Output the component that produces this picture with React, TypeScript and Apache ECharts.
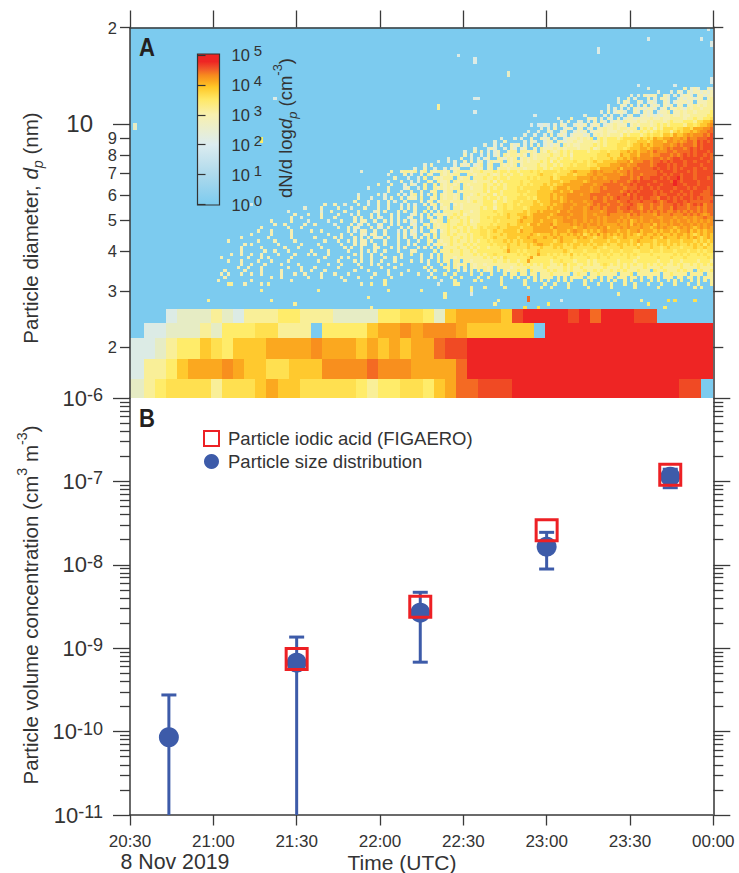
import React, { useEffect, useRef } from "react";
import * as echarts from "echarts";

const FONT = "Liberation Sans";
const INK = "#333333";
const BLUE = "#3D5BA9";
const RED = "#ED2024";
const SKY = "#7CCBEF";

const timeLabels = ["20:30", "21:00", "21:30", "22:00", "22:30", "23:00", "23:30", "00:00"];
const minorMultipliers = [2, 3, 4, 5, 6, 7, 8, 9];
const decadesB = [-11, -10, -9, -8, -7];
const diameterMinorTicks = [2, 3, 4, 5, 6, 7, 8, 9, 20];

// Panel B, minutes after 20:30
const psdTimes = [14, 60, 104.5, 150, 194.5];
const psdValues = [8.55e-11, 6.7e-10, 2.67e-9, 1.65e-8, 1.14e-7];
const psdUpper = [2.75e-10, 1.36e-9, 4.68e-9, 2.45e-8, 1.4e-7];
const psdLower = [1e-11, 1e-11, 6.8e-10, 8.9e-9, 8.4e-8];
const iodicTimes = [60, 104.5, 150, 194.5];
const iodicValues = [7.43e-10, 3.15e-9, 2.59e-8, 1.2e-7];

// level characters -> colours of the colour bar
const palette: Record<string, string> = {
  b: "#DCEBE5", c: "#E6ECC4",
  a: "#E6EDD2", "0": "#F5EFB4", "1": "#F9EF98", "2": "#FFEC6A", "3": "#FFE050", "4": "#FFC92E",
  "5": "#FBA81F", "6": "#F88F1E", "7": "#F46A23", "8": "#F04A24", "9": "#EE2524",
};
const colorStops = [
  [0, SKY], [0.2, "#ADD9EC"], [0.4, "#DCECF0"], [0.6, "#F8F0AE"], [0.7, "#FFE866"],
  [0.78, "#FFC828"], [0.82, "#FBA81F"], [0.86, "#F7891E"], [0.9, "#F15A29"], [0.95, "#EE2524"], [1, "#EE2524"],
];

// low-diameter channels, edges in nm, bottom to top; rows listed top to bottom
const channelEdges = [2.64, 2.385, 2.14, 1.84, 1.59, 1.39];
const channelRows = [
  "....bccc1cb11122111cccc22332c45555489999897999 88.....".replace(/ /g, ""),
  "..bbccc1c222 33111.2222 4556566654 44444.999999999999999".replace(/ /g, ""),
  "bbbc122432 4445555655 5454545578 89 999999999999999999999".replace(/ /g, ""),
  "bb11245556 5443344466 6676665555 79 999999999999999999999".replace(/ /g, ""),
  "cc12333313 3345443333 3212233245 77888 999999999999999 88.".replace(/ /g, ""),
];

// isolated bins: [column, row, level]
const specks: [number, number, string][] = [
  [173, 0, "b"], [155, 3, "b"], [171, 3, "b"], [174, 4, "b"], [174, 5, "b"], [140, 6, "b"], [140, 7, "b"],
  [98, 8, "b"], [103, 9, "b"], [103, 10, "b"], [113, 13, "c"], [113, 14, "c"], [174, 15, "b"], [174, 16, "b"],
  [152, 17, "b"], [163, 17, "b"], [43, 21, "b"], [103, 21, "b"], [104, 21, "b"], [92, 23, "1"], [92, 24, "1"],
  [103, 25, "b"], [121, 26, "b"], [120, 29, "b"], [122, 29, "b"], [123, 29, "b"], [125, 29, "b"], [1, 29, "c"], [1, 30, "c"],
  [39, 33, "2"], [39, 34, "2"], [36, 53, "b"],
  [102, 78, "1"], [106, 78, "1"], [112, 78, "1"], [119, 78, "1"], [123, 78, "1"], [126, 78, "1"], [131, 78, "1"],
  [137, 78, "1"], [144, 78, "1"], [151, 78, "1"], [158, 78, "1"], [169, 78, "1"], [171, 78, "1"],
  [39, 79, "1"], [56, 79, "1"], [77, 79, "1"], [87, 79, "1"], [102, 79, "1"], [146, 80, "1"], [94, 80, "1"], [102, 80, "b"],
  [71, 81, "1"], [94, 81, "1"], [23, 82, "1"], [42, 82, "1"], [110, 82, "1"], [119, 82, "7"], [119, 81, "7"], [129, 82, "b"],
  [153, 82, "1"], [161, 82, "3"], [163, 82, "3"], [169, 82, "3"], [49, 83, "1"], [109, 83, "1"], [125, 83, "2"], [155, 83, "2"],
  [72, 84, "1"], [118, 84, "3"], [122, 84, "3"], [160, 84, "2"],
];

// 1.2-minute bins, rows 18 to 77 from the top, right-aligned to the last column
const binnedRows = [
  "a......... .0.a0a..0a",
  "...a...a.0 a.0a00a0a0",
  "a.a.0 a00..0a.a. a00a.00a00",
  "a..0.a... 0.a.00a..a 0a00a00.01",
  ".a.0a..0a. a0a..0a.a0 00a0.00011",
  "a. ..0a.0.a.0 .a0a.0a0.0 0.00101011",
  "..a. a.a.a.0a0a 00a.a0.001 0a10110111",
  "..a.0. a00a..0a.0 a0.a001.00 1011011112",
  "a.....a.a ..a.a0..a0 a0a0a00100 1001111122",
  "a...0.. ..0a0.a.0a .0.a00a000 0100100111 1011211223",
  ".a.0..a a.a.0.0a.a 00a1000100 1011101211 1222133445",
  "a ..a.0a..a0 a0.a00.a00 1000.01011 1012121222 2133234456",
  "..a. a.0..a0a.0 0.a0.00100 1011011.12 1202133323 3443555667",
  ".a..a.. 0a..a0..a0 a0.a000100 0110101121 2123233134 3445456677",
  "...a..a..a .0.a0a.a00 0a0.010101 1102122212 3233244354 4565666768",
  "a... a.a..0..0a 0.a..a0001 0102.12122 2123333243 4354455655 6576677788",
  "a..0.. ...a.0a..a 00.00a0010 0111012122 2233233444 3455546656 5677687878",
  "a..a.a..0 a0.a.0.0.a 0a00.10100 1111212122 2333234454 5455566567 6777687888",
  "a. ..a0a..a.0 a.a0..0.10 0010101110 1112012222 2332344455 4566567677 7678787888",
  "a..0. 0.a.a0..01 1.11010.10 2101212122 2212223323 3344545455 6576667767 7778788878",
  "..0.a.. a.0.a0.101 1010.10111 1211212022 2222233343 3354455466 6566777676 7878788787",
  "a...0..a.a .a0..10a10 1.01010111 2112122122 2223233334 3445456566 6677676788 7888887887",
  "a.. a.a..0.0.0 0.a1001.10 1101011121 2021222232 2323433444 4555646667 7677878788 8788788878",
  "a.0.... ..a.0a0.a0 1.01..1010 1.01111211 2212122323 3323344445 5566566777 7678887878 8788887888",
  "a..0..a..a .a00...010 0.01.01101 1110111221 2122323333 3334435555 5646667677 7787887878 7888788788",
  "a..... ...0..0110 1.01.10110 1.01111011 2111212212 2122232323 3332333454 4445656555 6566767777 7778788878 8878788888",
  "..a....0.a ..0.10..10 1011..1101 1121012121 2212222343 3323334434 4455655666 6656767767 7778878788 7888788888",
  "....0...a. .a.1..0101 11.1011.11 1211212212 2222323233 3423444445 5556566566 6677767687 7888787889 7888788878",
  "... ..a...0..a .a..10.100 1.10111101 1112021222 2232233333 3444344555 5456666667 6777678788 8878888798 7888878888",
  "..0 ...0...a.0 a..1..1.10 1101.10111 1211212122 2232323334 3434455555 5666566777 7767787888 7888788898 8788878888",
  ".a... ..0....a0. .a.1..1010 1011.11011 1212122122 2323333344 4345554555 6665667677 7776777878 8787888878 8878788878",
  "..... .0...a..0 ..0..01..0 11.1011111 1202221222 2333233444 4455455466 6665667777 7767878788 8878788788 7887888778",
  "..a.....0 .a...0.a.0 1.0.0.1.10 1101.11012 1122021222 2232333444 4545556666 5667777767 7778687888 8878778887 8787887778",
  ". ...0...a.. .a.0..0.00 0.1..01.10 1101.10111 1212212122 2333232444 4545456666 6667677676 7877787878 8776887878 7887878777",
  "..... ..0...a..0 ..0.a..0.. ..0.01.011 1011110121 1222022122 3323334344 4555456566 6566777677 7677877787 7787678878 8787777778",
  "..0..0..a ...0..a..0 ..0...a.0. a..0.01.01 1.01011111 1222122322 3233334434 4545566656 6656767767 7767787667 7677677787 8767878677",
  "a.. ..0....0.. .a...0...0 ..0...0.0. 0...1.0.10 1.11011111 2122022322 3332344444 5455566566 6567667677 7677877657 7676677687 7767767677",
  "a....... ..a..0...0 ...0....a0 .0...0.0.. 0..1.0.0.1 1111211011 2222322333 3334344545 5554665666 6566665677 7667767767 6767676676 7676767677",
  "..0...0. ..0....0.. .a.0...0.0 ...0.0...a 0.0.1.0110 1121201111 2222232343 3444345555 5456666566 6566566676 6666576766 6657666766 6767676567",
  "...0..a... ..0...0... ..0.0..0.0 a..0.0..a0 ..0.10.01. 1212112111 2232333343 3345445555 4555565666 6566656566 6656566656 6665566656 6566566766",
  "..0.. ...0....a. ....a...0. ..0.00..0. .0.0.0.0.a 0.a..1011. 2111212011 2222323333 3454445545 5545566656 6565656566 6565645656 6566566565 6656565656",
  "...0. .0.....0.. 0.....a... .0.a0.0..a 0..0.0...0 a..10.1011 2112212112 2223233343 3444355455 5645555656 5656656555 5655646565 5646556566 5665656566",
  ".0..... ..0...0... .......0.. 0.0a...0.0 a.0...0.0. 0.0.1.1011 2121121212 3233343344 4434445555 5465555545 5655565645 5565655565 5456565545 6565456565",
  "..0...0.. ...0.....0 ..0....... 0.a.00..0. .0...a.0.0 a.0..10.01 2112121222 3323433444 4354445555 5545554565 5454545655 5455455645 5545455454 5564545455",
  ".0.....0.. ...0...... ....0...0. .0..0a.00. .0...0.0.a 0..01.1.11 2121112122 3323334344 4444454344 4545445454 5345464545 4545454345 4454544545 5454345454",
  "..0. ......0... ...0...... 0.....0.0. ..0.0.0.0a 0.0..0.0.. 0.0.1.1.11 1211212122 2323433344 4344544445 4454544445 4544344544 3445444454 4544354445 4454543454",
  ".0..... ...0....0. ....0..... ...0...0.. 0.0.00.0.. .0...0..0. .0..10.101 1212112121 2232333434 3434445444 4434544434 4443444434 4344434544 4434443444 3444343434",
  "....0 .0.......0 ......0... .0......0. ..0.00..0. .0...0..0. 0...1.0110 1211121212 2223233343 3433434554 4344434344 3434344343 3443434243 3434343434 3343434243",
  "..0. ....0..... .0...0.... ..0......0 .0..0...00 ...0.0.0.. .0.0.0.1.1 1112112121 2212223243 3333433343 3343433343 3333433233 3343333433 3433234333 2333433433",
  "..0. .....0..0. ..0......0 ....0..... 0...0.0.0. .0...0...0 0.....1.11 1211211212 2222222353 3232333433 3333343233 3233323332 3323332233 3233233323 3323323233",
  "...0..0. .0..0....0 ....0...0. 0...0..... ..0.0..0.. 0.....0..1 ..0..0.1.1 1111211121 2122322222 2323233533 2323232423 2322232323 2232323222 2322222232 3232232322",
  "..0....... 0...0.0... ...0...... ...0....0. 0...0..0.. .0..0.0... ..0..0.1.1 1101111111 1212121322 2222352222 2232222322 2232232232 2222322122 2223222322 2322222232",
  "....0...0. ...0...0.. ..0....... .0.....0.. ..0.0..0.. 0...0....0 ..0.0..1.1 1.11.11011 1111211212 2122522222 2122322212 2212122222 2122221222 2221222122 1222212221",
  "........0. .0...0.... 0....0.... ....0...0. ...0...0.0 ..0...0... ....0...1. 1.1011.101 1011111111 1212121212 2112131221 1212112321 2121212112 1212121121 2112121212",
  ".......0.. 0...0..... ..0...0... 0......0.. ....0..... 0...0..... ...1.0...1 1.10.1.101 1101.11110 1111211112 1111121211 2111111211 1121211112 1111211111 2111121111",
  "...0.....0 ....0..... 0.....0..0 ...0...... ..0...0... ..0.....0. ....0.1... 1..1.0.1.1 .101.1.101 1211.21111 2121121211 1211212112 1212111211 1.21121112 1211.12112",
  "..0.0...0. .0..0..... 0...0..0.. ..0...0... 0.......0. ..0...0... .0...0...1 ..1....1.. 1..1...1.1 1.11.11.11 1211111.12 11.1121111 1.1112.111 1111.11211 11.1111.11",
  "...0...... .......0.. 0.......0. ..0.....0. ...0...0.. ...0...... ....0.1... .1..1....1 ..1...1..1 .1..1.1.11 11.1.1.111 1.111.1.11 .111.11.1. 11.1.111.1 1.11.1.111",
  ".0........ .0........ ...0...... .........0 .......... .1........ ........a. ..1.....1. 1.....1... ...1..1.1. 1..1.1.1.. .1.1..1.1. 1..1.1..1. .1.1..1.1. 1..1.1.1.1",
  "....11...0 ....0.1... .......... .......... ....0..1.. .1........ .......a.. ..11...... ......1... ...1.....1 ..1...1... .1...1...1 ...1..1... 1...1...1. ..1..1...1",
];

const COLS = 175;
const ROWS = 85;
const FIRST_ROW = 18;
const MIN_PER_COL = 210 / COLS;
const TOP_D = 20;
const BOTTOM_D = 2.64;
const rowEdge = (r: number) => TOP_D * Math.pow(BOTTOM_D / TOP_D, r / ROWS);

type Cell = [number, number, number, number, string];

function buildCells(): Cell[] {
  const cells: Cell[] = [];
  binnedRows.forEach((raw, i) => {
    const s = raw.replace(/ /g, "").padStart(COLS, ".");
    const r = FIRST_ROW + i;
    let c = 0;
    while (c < COLS) {
      const ch = s[c];
      let e = c + 1;
      while (e < COLS && s[e] === ch) e++;
      if (ch !== ".") cells.push([c * MIN_PER_COL, e * MIN_PER_COL, rowEdge(r + 1), rowEdge(r), ch]);
      c = e;
    }
  });
  specks.forEach(([c, r, ch]) => {
    cells.push([c * MIN_PER_COL, (c + 1) * MIN_PER_COL, rowEdge(r + 1), rowEdge(r), ch]);
  });
  channelRows.forEach((s, r) => {
    for (let p = 0; p < s.length; p++) {
      if (s[p] === ".") continue;
      const t0 = Math.max(0, 0.97 + 4.014 * (p - 1));
      const t1 = p === s.length - 1 ? 210 : 0.97 + 4.014 * p;
      cells.push([t0, t1, channelEdges[r + 1], channelEdges[r], s[p]]);
    }
  });
  return cells;
}

const decadeLabel = (v: number) => `{b|10}{s|${Math.round(Math.log10(v))}}`;

export default function App() {
  const ref = useRef<HTMLDivElement>(null);
  useEffect(() => {
    if (!ref.current) return;
    const chart = echarts.init(ref.current, undefined, { renderer: "svg" });
    const line = { color: "#3a3a3a", width: 1.5 };
    const hiddenX = { show: false };
    const minorB = decadesB.flatMap((d) => minorMultipliers.map((m) => d + Math.log10(m)));
    const minorA = diameterMinorTicks.map((m) => Math.log10(m));
    const logMinA = Math.log10(1.39);
    const logMaxA = Math.log10(20);
    const overlay = (gridIndex: number, min: number, max: number, position: string, values: number[], length: number, extra: any = {}) => ({
      type: "value", gridIndex, min, max, position, splitLine: { show: false }, z: 8,
      axisLine: { show: false },
      axisTick: { show: true, inside: false, length, customValues: values, lineStyle: { color: "#3a3a3a", width: 1.3 } },
      axisLabel: { show: false },
      ...extra,
    });
    const bigRich = {
      b: { fontSize: 22, fontFamily: FONT, color: INK },
      s: { fontSize: 18, fontFamily: FONT, color: INK, verticalAlign: "top", lineHeight: 24 },
    };
    const smallRich = {
      b: { fontSize: 16.5, fontFamily: FONT, color: INK },
      s: { fontSize: 15, fontFamily: FONT, color: INK, verticalAlign: "top", lineHeight: 24, padding: [0, 0, 0, 4] },
    };
    const titleRich = (size: number) => ({
      i: { fontSize: size, fontFamily: FONT, fontStyle: "italic", fill: INK },
      sub: { fontSize: size * 0.7, fontFamily: FONT, fontStyle: "italic", fill: INK, verticalAlign: "bottom", lineHeight: size * 1.5 },
      sup: { fontSize: size * 0.7, fontFamily: FONT, fill: INK, verticalAlign: "top", lineHeight: size * 1.5 },
    });
    const texts = (x: number, y: number, text: string, size: number, extra: any = {}, rotation = 0, node: any = {}) => ({
      type: "text", x, y, rotation, z: 50, ...node,
      style: {
        text, fontSize: size, fontFamily: FONT, fill: INK, textAlign: "center", textVerticalAlign: "middle",
        ...extra,
      },
    });

    chart.setOption({
      animation: false,
      backgroundColor: "#ffffff",
      grid: [
        { left: 130, top: 27.5, width: 583.3, height: 370.5, show: true, backgroundColor: SKY, borderWidth: 0 },
        { left: 130, top: 398, width: 583.3, height: 417, borderWidth: 0 },
        { left: 197.5, top: 55, width: 22, height: 149.5, borderWidth: 0 },
      ],
      xAxis: [
        {
          type: "value", gridIndex: 0, min: 0, max: 210, interval: 30, position: "top", splitLine: { show: false }, z: 8,
          axisLine: { show: true, onZero: false, lineStyle: line },
          axisTick: { show: true, length: 17, lineStyle: { color: "#3a3a3a", width: 1.3 } }, axisLabel: { show: false },
        },
        {
          type: "value", gridIndex: 1, min: 0, max: 210, interval: 30, position: "bottom", splitLine: { show: false },
          axisLine: { show: true, onZero: false, lineStyle: line },
          axisTick: { show: true, length: 10.5, lineStyle: { color: "#3a3a3a", width: 1.3 } },
          axisLabel: {
            show: true, fontSize: 17, fontFamily: FONT, color: INK, margin: 17.5,
            formatter: (v: number) => timeLabels[Math.round(v / 30)],
          },
        },
        { type: "value", gridIndex: 2, min: 0, max: 1, ...hiddenX },
      ],
      yAxis: [
        // 0: panel A data axis
        {
          type: "log", logBase: 10, gridIndex: 0, min: 1.39, max: 20, position: "left", splitLine: { show: false }, z: 8,
          axisLine: { show: true, onZero: false, lineStyle: line }, axisTick: { show: false }, axisLabel: { show: false }, minorTick: { show: false },
        },
        // 1, 2: panel A left ticks
        overlay(0, logMinA, logMaxA, "left", minorA, 10, {
          axisLabel: {
            show: true, customValues: minorA, margin: 13, fontSize: 16.5, fontFamily: FONT, color: INK,
            padding: [0, 0, 3, 0],
            formatter: (v: number) => { const n = Math.round(Math.pow(10, v)); return String(n >= 10 ? n / 10 : n); },
          },
        }),
        overlay(0, logMinA, logMaxA, "left", [1], 17, {
          axisLabel: {
            show: true, customValues: [1], margin: 37, fontSize: 24, fontFamily: FONT, color: INK,
            padding: [0, 0, 3, 0], formatter: () => "10",
          },
        }),
        // 3, 4: panel A right ticks
        overlay(0, logMinA, logMaxA, "right", minorA, 10, { axisLine: { show: true, onZero: false, lineStyle: { color: "#666666", width: 2 } } }),
        overlay(0, logMinA, logMaxA, "right", [1], 18),
        // 5: panel B data axis
        {
          type: "log", logBase: 10, gridIndex: 1, min: 1e-11, max: 1e-6, position: "left", splitLine: { show: false },
          axisLine: { show: true, onZero: false, lineStyle: line },
          axisTick: { show: true, length: 17, lineStyle: { color: "#3a3a3a", width: 1.3 } },
          axisLabel: { show: true, margin: 27, formatter: decadeLabel, rich: bigRich },
          minorTick: { show: false },
        },
        // 6: panel B left minor ticks
        overlay(1, -11, -6, "left", minorB, 10),
        // 7, 8: panel B right ticks
        overlay(1, -11, -6, "right", [-11, -10, -9, -8, -7, -6], 17, { axisLine: { show: true, onZero: false, lineStyle: { color: "#666666", width: 2 } } }),
        overlay(1, -11, -6, "right", minorB, 10),
        // 9: colour bar
        {
          type: "log", logBase: 10, gridIndex: 2, min: 1, max: 1e5, position: "right", splitLine: { show: false }, z: 9,
          axisLine: { show: false },
          axisTick: { show: true, length: 8, lineStyle: { color: "#333333", width: 1.2 } },
          axisLabel: { show: true, margin: 12, formatter: decadeLabel, rich: smallRich },
          minorTick: { show: false },
        },
      ],
      legend: {
        left: 203, top: 429, orient: "vertical", padding: 0, itemGap: 4, itemWidth: 15, itemHeight: 15, selectedMode: false,
        textStyle: { fontSize: 18.5, fontFamily: FONT, color: INK, padding: [0, 0, 0, 4] },
        data: [
          { name: "Particle iodic acid (FIGAERO)", icon: "rect" },
          { name: "Particle size distribution", icon: "circle" },
        ],
      },
      series: [
        {
          type: "custom", xAxisIndex: 0, yAxisIndex: 0, silent: true, clip: true, z: 2,
          data: buildCells(),
          encode: { x: [0, 1], y: [2, 3] },
          renderItem: (_p: any, api: any) => {
            const a = api.coord([api.value(0), api.value(3)]);
            const b = api.coord([api.value(1), api.value(2)]);
            const x = Math.round(a[0]);
            const y = Math.round(a[1]);
            return {
              type: "rect", silent: true,
              shape: { x, y, width: Math.round(b[0]) - x, height: Math.round(b[1]) - y },
              style: { fill: palette[String(api.value(4))] },
            };
          },
        },
        {
          type: "custom", xAxisIndex: 2, yAxisIndex: 9, silent: true, clip: false, z: 7,
          data: [[0, 1, 1, 1e5]],
          encode: { x: [0, 1], y: [2, 3] },
          renderItem: (_p: any, api: any) => {
            const a = api.coord([api.value(0), api.value(3)]);
            const b = api.coord([api.value(1), api.value(2)]);
            return {
              type: "rect",
              shape: { x: a[0], y: a[1] - 1, width: b[0] - a[0], height: b[1] - a[1] + 1.5 },
              style: {
                fill: new echarts.graphic.LinearGradient(0, 1, 0, 0, colorStops.map(([offset, color]) => ({ offset: offset as number, color: color as string }))),
                stroke: "#333333", lineWidth: 1.2,
              },
            };
          },
        },
        {
          type: "custom", name: "error bars", xAxisIndex: 1, yAxisIndex: 5, silent: true, clip: false,
          data: psdTimes.map((t, i) => [t, psdLower[i], psdUpper[i]]),
          encode: { x: 0, y: [1, 2] },
          renderItem: (_p: any, api: any) => {
            const lo = api.coord([api.value(0), api.value(1)]);
            const hi = api.coord([api.value(0), api.value(2)]);
            const style = { stroke: BLUE, lineWidth: 3, fill: "none" };
            const children: any[] = [
              { type: "line", shape: { x1: lo[0], y1: lo[1], x2: hi[0], y2: hi[1] }, style },
              { type: "line", shape: { x1: hi[0] - 7.5, y1: hi[1], x2: hi[0] + 7.5, y2: hi[1] }, style },
            ];
            if (api.value(1) > 1e-11) {
              children.push({ type: "line", shape: { x1: lo[0] - 7.5, y1: lo[1], x2: lo[0] + 7.5, y2: lo[1] }, style });
            }
            return { type: "group", children };
          },
          z: 3,
        },
        {
          type: "scatter", name: "Particle size distribution", xAxisIndex: 1, yAxisIndex: 5, clip: false, z: 4,
          symbol: "circle", symbolSize: 20, itemStyle: { color: BLUE, opacity: 1 },
          data: psdTimes.map((t, i) => [t, psdValues[i]]),
        },
        {
          type: "scatter", name: "Particle iodic acid (FIGAERO)", xAxisIndex: 1, yAxisIndex: 5, clip: false, z: 5,
          symbol: "rect", symbolSize: 21, itemStyle: { color: "rgba(0,0,0,0)", borderColor: RED, borderWidth: 3, opacity: 1 },
          data: iodicTimes.map((t, i) => [t, iodicValues[i]]),
        },
      ],
      graphic: [
        texts(147, 47, "A", 26, { fontWeight: "bold", fill: "#231F20" }, 0, { scaleX: 0.85 }),
        texts(147, 418, "B", 26, { fontWeight: "bold", fill: "#231F20" }, 0, { scaleX: 0.85 }),
        texts(30, 228, "Particle diameter, {i|d}{sub|p} (nm)", 20.5, { rich: titleRich(20.5) }, Math.PI / 2),
        texts(30, 605, "Particle volume concentration (cm{sup|3} m{sup|-3})", 20.5, { rich: titleRich(20.5) }, Math.PI / 2),
        texts(285, 128, "dN/d log{i|d}{sub|p} (cm{sup|-3})", 18.5, { rich: titleRich(18.5) }, Math.PI / 2),
        texts(175, 862, "8 Nov 2019", 21.3),
        texts(402, 862, "Time (UTC)", 21),
      ],
    });
    return () => chart.dispose();
  }, []);
  return <div ref={ref} style={{ position: "absolute", left: 0, top: 0, width: 739, height: 873, background: "#fff" }} />;
}
